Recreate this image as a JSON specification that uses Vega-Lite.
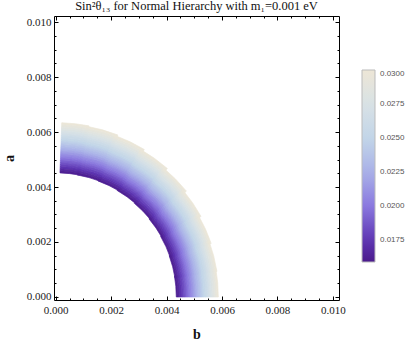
{
"$schema": "https://vega.github.io/schema/vega-lite/v6.json",
"autosize": {"type": "none"},
"padding": {"left": 54, "top": 16, "right": 76, "bottom": 47},
"width": 285,
"height": 284,
"title": {"text": "Sin²θ₁₃ for Normal Hierarchy with m₁=0.001 eV", "font": "Liberation Serif", "fontSize": 12.5, "fontWeight": "normal", "color": "#111", "anchor": "middle", "offset": 3},
"config": {
  "font": "Liberation Serif",
  "view": {"stroke": null},
  "axis": {"domainColor": "#000", "domainWidth": 1, "tickColor": "#000", "labelFont": "Liberation Serif", "labelFontSize": 11, "labelColor": "#222", "titleFont": "Liberation Serif", "titleFontWeight": "bold", "titleFontSize": 14, "titleColor": "#111", "grid": false, "zindex": 1}
},
"datasets": {
  "bands": [
{"t1":2,"t2":11,"r":0.006316,"r2":0.006240,"v":0.02971},{"t1":2,"t2":11,"r":0.006240,"r2":0.006165,"v":0.02912},{"t1":2,"t2":11,"r":0.006165,"r2":0.006089,"v":0.02853},{"t1":2,"t2":11,"r":0.006089,"r2":0.006013,"v":0.02794},{"t1":2,"t2":11,"r":0.006013,"r2":0.005937,"v":0.02736},{"t1":2,"t2":11,"r":0.005937,"r2":0.005862,"v":0.02677},{"t1":2,"t2":11,"r":0.005862,"r2":0.005786,"v":0.02618},{"t1":2,"t2":11,"r":0.005786,"r2":0.005710,"v":0.02559},{"t1":2,"t2":11,"r":0.005710,"r2":0.005635,"v":0.02501},{"t1":2,"t2":11,"r":0.005635,"r2":0.005559,"v":0.02442},{"t1":2,"t2":11,"r":0.005559,"r2":0.005483,"v":0.02383},{"t1":2,"t2":11,"r":0.005483,"r2":0.005408,"v":0.02324},{"t1":2,"t2":11,"r":0.005408,"r2":0.005332,"v":0.02266},{"t1":2,"t2":11,"r":0.005332,"r2":0.005256,"v":0.02207},{"t1":2,"t2":11,"r":0.005256,"r2":0.005180,"v":0.02148},{"t1":2,"t2":11,"r":0.005180,"r2":0.005105,"v":0.02089},{"t1":2,"t2":11,"r":0.005105,"r2":0.005029,"v":0.02031},{"t1":2,"t2":11,"r":0.005029,"r2":0.004953,"v":0.01972},{"t1":2,"t2":11,"r":0.004953,"r2":0.004878,"v":0.01913},{"t1":2,"t2":11,"r":0.004878,"r2":0.004802,"v":0.01854},{"t1":2,"t2":11,"r":0.004802,"r2":0.004726,"v":0.01796},{"t1":2,"t2":11,"r":0.004726,"r2":0.004650,"v":0.01737},{"t1":2,"t2":11,"r":0.004650,"r2":0.004575,"v":0.01678},{"t1":2,"t2":11,"r":0.004575,"r2":0.004499,"v":0.01619},
{"t1":10,"t2":21,"r":0.006288,"r2":0.006213,"v":0.02971},{"t1":10,"t2":21,"r":0.006213,"r2":0.006138,"v":0.02912},{"t1":10,"t2":21,"r":0.006138,"r2":0.006063,"v":0.02853},{"t1":10,"t2":21,"r":0.006063,"r2":0.005988,"v":0.02794},{"t1":10,"t2":21,"r":0.005988,"r2":0.005914,"v":0.02736},{"t1":10,"t2":21,"r":0.005914,"r2":0.005839,"v":0.02677},{"t1":10,"t2":21,"r":0.005839,"r2":0.005764,"v":0.02618},{"t1":10,"t2":21,"r":0.005764,"r2":0.005689,"v":0.02559},{"t1":10,"t2":21,"r":0.005689,"r2":0.005614,"v":0.02501},{"t1":10,"t2":21,"r":0.005614,"r2":0.005539,"v":0.02442},{"t1":10,"t2":21,"r":0.005539,"r2":0.005464,"v":0.02383},{"t1":10,"t2":21,"r":0.005464,"r2":0.005390,"v":0.02324},{"t1":10,"t2":21,"r":0.005390,"r2":0.005315,"v":0.02266},{"t1":10,"t2":21,"r":0.005315,"r2":0.005240,"v":0.02207},{"t1":10,"t2":21,"r":0.005240,"r2":0.005165,"v":0.02148},{"t1":10,"t2":21,"r":0.005165,"r2":0.005090,"v":0.02089},{"t1":10,"t2":21,"r":0.005090,"r2":0.005015,"v":0.02031},{"t1":10,"t2":21,"r":0.005015,"r2":0.004940,"v":0.01972},{"t1":10,"t2":21,"r":0.004940,"r2":0.004865,"v":0.01913},{"t1":10,"t2":21,"r":0.004865,"r2":0.004790,"v":0.01854},{"t1":10,"t2":21,"r":0.004790,"r2":0.004716,"v":0.01796},{"t1":10,"t2":21,"r":0.004716,"r2":0.004641,"v":0.01737},{"t1":10,"t2":21,"r":0.004641,"r2":0.004566,"v":0.01678},{"t1":10,"t2":21,"r":0.004566,"r2":0.004491,"v":0.01619},
{"t1":20,"t2":31,"r":0.006236,"r2":0.006163,"v":0.02971},{"t1":20,"t2":31,"r":0.006163,"r2":0.006089,"v":0.02912},{"t1":20,"t2":31,"r":0.006089,"r2":0.006016,"v":0.02853},{"t1":20,"t2":31,"r":0.006016,"r2":0.005943,"v":0.02794},{"t1":20,"t2":31,"r":0.005943,"r2":0.005869,"v":0.02736},{"t1":20,"t2":31,"r":0.005869,"r2":0.005796,"v":0.02677},{"t1":20,"t2":31,"r":0.005796,"r2":0.005723,"v":0.02618},{"t1":20,"t2":31,"r":0.005723,"r2":0.005649,"v":0.02559},{"t1":20,"t2":31,"r":0.005649,"r2":0.005576,"v":0.02501},{"t1":20,"t2":31,"r":0.005576,"r2":0.005503,"v":0.02442},{"t1":20,"t2":31,"r":0.005503,"r2":0.005429,"v":0.02383},{"t1":20,"t2":31,"r":0.005429,"r2":0.005356,"v":0.02324},{"t1":20,"t2":31,"r":0.005356,"r2":0.005283,"v":0.02266},{"t1":20,"t2":31,"r":0.005283,"r2":0.005209,"v":0.02207},{"t1":20,"t2":31,"r":0.005209,"r2":0.005136,"v":0.02148},{"t1":20,"t2":31,"r":0.005136,"r2":0.005063,"v":0.02089},{"t1":20,"t2":31,"r":0.005063,"r2":0.004989,"v":0.02031},{"t1":20,"t2":31,"r":0.004989,"r2":0.004916,"v":0.01972},{"t1":20,"t2":31,"r":0.004916,"r2":0.004843,"v":0.01913},{"t1":20,"t2":31,"r":0.004843,"r2":0.004769,"v":0.01854},{"t1":20,"t2":31,"r":0.004769,"r2":0.004696,"v":0.01796},{"t1":20,"t2":31,"r":0.004696,"r2":0.004623,"v":0.01737},{"t1":20,"t2":31,"r":0.004623,"r2":0.004549,"v":0.01678},{"t1":20,"t2":31,"r":0.004549,"r2":0.004476,"v":0.01619},
{"t1":30,"t2":41,"r":0.006168,"r2":0.006097,"v":0.02971},{"t1":30,"t2":41,"r":0.006097,"r2":0.006025,"v":0.02912},{"t1":30,"t2":41,"r":0.006025,"r2":0.005954,"v":0.02853},{"t1":30,"t2":41,"r":0.005954,"r2":0.005883,"v":0.02794},{"t1":30,"t2":41,"r":0.005883,"r2":0.005811,"v":0.02736},{"t1":30,"t2":41,"r":0.005811,"r2":0.005740,"v":0.02677},{"t1":30,"t2":41,"r":0.005740,"r2":0.005669,"v":0.02618},{"t1":30,"t2":41,"r":0.005669,"r2":0.005597,"v":0.02559},{"t1":30,"t2":41,"r":0.005597,"r2":0.005526,"v":0.02501},{"t1":30,"t2":41,"r":0.005526,"r2":0.005455,"v":0.02442},{"t1":30,"t2":41,"r":0.005455,"r2":0.005383,"v":0.02383},{"t1":30,"t2":41,"r":0.005383,"r2":0.005312,"v":0.02324},{"t1":30,"t2":41,"r":0.005312,"r2":0.005241,"v":0.02266},{"t1":30,"t2":41,"r":0.005241,"r2":0.005169,"v":0.02207},{"t1":30,"t2":41,"r":0.005169,"r2":0.005098,"v":0.02148},{"t1":30,"t2":41,"r":0.005098,"r2":0.005027,"v":0.02089},{"t1":30,"t2":41,"r":0.005027,"r2":0.004955,"v":0.02031},{"t1":30,"t2":41,"r":0.004955,"r2":0.004884,"v":0.01972},{"t1":30,"t2":41,"r":0.004884,"r2":0.004813,"v":0.01913},{"t1":30,"t2":41,"r":0.004813,"r2":0.004741,"v":0.01854},{"t1":30,"t2":41,"r":0.004741,"r2":0.004670,"v":0.01796},{"t1":30,"t2":41,"r":0.004670,"r2":0.004599,"v":0.01737},{"t1":30,"t2":41,"r":0.004599,"r2":0.004527,"v":0.01678},{"t1":30,"t2":41,"r":0.004527,"r2":0.004456,"v":0.01619},
{"t1":40,"t2":51,"r":0.006094,"r2":0.006025,"v":0.02971},{"t1":40,"t2":51,"r":0.006025,"r2":0.005956,"v":0.02912},{"t1":40,"t2":51,"r":0.005956,"r2":0.005887,"v":0.02853},{"t1":40,"t2":51,"r":0.005887,"r2":0.005817,"v":0.02794},{"t1":40,"t2":51,"r":0.005817,"r2":0.005748,"v":0.02736},{"t1":40,"t2":51,"r":0.005748,"r2":0.005679,"v":0.02677},{"t1":40,"t2":51,"r":0.005679,"r2":0.005610,"v":0.02618},{"t1":40,"t2":51,"r":0.005610,"r2":0.005541,"v":0.02559},{"t1":40,"t2":51,"r":0.005541,"r2":0.005472,"v":0.02501},{"t1":40,"t2":51,"r":0.005472,"r2":0.005402,"v":0.02442},{"t1":40,"t2":51,"r":0.005402,"r2":0.005333,"v":0.02383},{"t1":40,"t2":51,"r":0.005333,"r2":0.005264,"v":0.02324},{"t1":40,"t2":51,"r":0.005264,"r2":0.005195,"v":0.02266},{"t1":40,"t2":51,"r":0.005195,"r2":0.005126,"v":0.02207},{"t1":40,"t2":51,"r":0.005126,"r2":0.005057,"v":0.02148},{"t1":40,"t2":51,"r":0.005057,"r2":0.004987,"v":0.02089},{"t1":40,"t2":51,"r":0.004987,"r2":0.004918,"v":0.02031},{"t1":40,"t2":51,"r":0.004918,"r2":0.004849,"v":0.01972},{"t1":40,"t2":51,"r":0.004849,"r2":0.004780,"v":0.01913},{"t1":40,"t2":51,"r":0.004780,"r2":0.004711,"v":0.01854},{"t1":40,"t2":51,"r":0.004711,"r2":0.004642,"v":0.01796},{"t1":40,"t2":51,"r":0.004642,"r2":0.004572,"v":0.01737},{"t1":40,"t2":51,"r":0.004572,"r2":0.004503,"v":0.01678},{"t1":40,"t2":51,"r":0.004503,"r2":0.004434,"v":0.01619},
{"t1":50,"t2":61,"r":0.006022,"r2":0.005955,"v":0.02971},{"t1":50,"t2":61,"r":0.005955,"r2":0.005888,"v":0.02912},{"t1":50,"t2":61,"r":0.005888,"r2":0.005821,"v":0.02853},{"t1":50,"t2":61,"r":0.005821,"r2":0.005754,"v":0.02794},{"t1":50,"t2":61,"r":0.005754,"r2":0.005687,"v":0.02736},{"t1":50,"t2":61,"r":0.005687,"r2":0.005620,"v":0.02677},{"t1":50,"t2":61,"r":0.005620,"r2":0.005552,"v":0.02618},{"t1":50,"t2":61,"r":0.005552,"r2":0.005485,"v":0.02559},{"t1":50,"t2":61,"r":0.005485,"r2":0.005418,"v":0.02501},{"t1":50,"t2":61,"r":0.005418,"r2":0.005351,"v":0.02442},{"t1":50,"t2":61,"r":0.005351,"r2":0.005284,"v":0.02383},{"t1":50,"t2":61,"r":0.005284,"r2":0.005217,"v":0.02324},{"t1":50,"t2":61,"r":0.005217,"r2":0.005150,"v":0.02266},{"t1":50,"t2":61,"r":0.005150,"r2":0.005083,"v":0.02207},{"t1":50,"t2":61,"r":0.005083,"r2":0.005016,"v":0.02148},{"t1":50,"t2":61,"r":0.005016,"r2":0.004949,"v":0.02089},{"t1":50,"t2":61,"r":0.004949,"r2":0.004882,"v":0.02031},{"t1":50,"t2":61,"r":0.004882,"r2":0.004815,"v":0.01972},{"t1":50,"t2":61,"r":0.004815,"r2":0.004747,"v":0.01913},{"t1":50,"t2":61,"r":0.004747,"r2":0.004680,"v":0.01854},{"t1":50,"t2":61,"r":0.004680,"r2":0.004613,"v":0.01796},{"t1":50,"t2":61,"r":0.004613,"r2":0.004546,"v":0.01737},{"t1":50,"t2":61,"r":0.004546,"r2":0.004479,"v":0.01678},{"t1":50,"t2":61,"r":0.004479,"r2":0.004412,"v":0.01619},
{"t1":60,"t2":71,"r":0.005960,"r2":0.005895,"v":0.02971},{"t1":60,"t2":71,"r":0.005895,"r2":0.005829,"v":0.02912},{"t1":60,"t2":71,"r":0.005829,"r2":0.005764,"v":0.02853},{"t1":60,"t2":71,"r":0.005764,"r2":0.005699,"v":0.02794},{"t1":60,"t2":71,"r":0.005699,"r2":0.005633,"v":0.02736},{"t1":60,"t2":71,"r":0.005633,"r2":0.005568,"v":0.02677},{"t1":60,"t2":71,"r":0.005568,"r2":0.005503,"v":0.02618},{"t1":60,"t2":71,"r":0.005503,"r2":0.005437,"v":0.02559},{"t1":60,"t2":71,"r":0.005437,"r2":0.005372,"v":0.02501},{"t1":60,"t2":71,"r":0.005372,"r2":0.005307,"v":0.02442},{"t1":60,"t2":71,"r":0.005307,"r2":0.005241,"v":0.02383},{"t1":60,"t2":71,"r":0.005241,"r2":0.005176,"v":0.02324},{"t1":60,"t2":71,"r":0.005176,"r2":0.005111,"v":0.02266},{"t1":60,"t2":71,"r":0.005111,"r2":0.005045,"v":0.02207},{"t1":60,"t2":71,"r":0.005045,"r2":0.004980,"v":0.02148},{"t1":60,"t2":71,"r":0.004980,"r2":0.004915,"v":0.02089},{"t1":60,"t2":71,"r":0.004915,"r2":0.004849,"v":0.02031},{"t1":60,"t2":71,"r":0.004849,"r2":0.004784,"v":0.01972},{"t1":60,"t2":71,"r":0.004784,"r2":0.004719,"v":0.01913},{"t1":60,"t2":71,"r":0.004719,"r2":0.004653,"v":0.01854},{"t1":60,"t2":71,"r":0.004653,"r2":0.004588,"v":0.01796},{"t1":60,"t2":71,"r":0.004588,"r2":0.004523,"v":0.01737},{"t1":60,"t2":71,"r":0.004523,"r2":0.004457,"v":0.01678},{"t1":60,"t2":71,"r":0.004457,"r2":0.004392,"v":0.01619},
{"t1":70,"t2":81,"r":0.005916,"r2":0.005852,"v":0.02971},{"t1":70,"t2":81,"r":0.005852,"r2":0.005788,"v":0.02912},{"t1":70,"t2":81,"r":0.005788,"r2":0.005724,"v":0.02853},{"t1":70,"t2":81,"r":0.005724,"r2":0.005660,"v":0.02794},{"t1":70,"t2":81,"r":0.005660,"r2":0.005596,"v":0.02736},{"t1":70,"t2":81,"r":0.005596,"r2":0.005532,"v":0.02677},{"t1":70,"t2":81,"r":0.005532,"r2":0.005467,"v":0.02618},{"t1":70,"t2":81,"r":0.005467,"r2":0.005403,"v":0.02559},{"t1":70,"t2":81,"r":0.005403,"r2":0.005339,"v":0.02501},{"t1":70,"t2":81,"r":0.005339,"r2":0.005275,"v":0.02442},{"t1":70,"t2":81,"r":0.005275,"r2":0.005211,"v":0.02383},{"t1":70,"t2":81,"r":0.005211,"r2":0.005147,"v":0.02324},{"t1":70,"t2":81,"r":0.005147,"r2":0.005083,"v":0.02266},{"t1":70,"t2":81,"r":0.005083,"r2":0.005019,"v":0.02207},{"t1":70,"t2":81,"r":0.005019,"r2":0.004955,"v":0.02148},{"t1":70,"t2":81,"r":0.004955,"r2":0.004891,"v":0.02089},{"t1":70,"t2":81,"r":0.004891,"r2":0.004827,"v":0.02031},{"t1":70,"t2":81,"r":0.004827,"r2":0.004763,"v":0.01972},{"t1":70,"t2":81,"r":0.004763,"r2":0.004698,"v":0.01913},{"t1":70,"t2":81,"r":0.004698,"r2":0.004634,"v":0.01854},{"t1":70,"t2":81,"r":0.004634,"r2":0.004570,"v":0.01796},{"t1":70,"t2":81,"r":0.004570,"r2":0.004506,"v":0.01737},{"t1":70,"t2":81,"r":0.004506,"r2":0.004442,"v":0.01678},{"t1":70,"t2":81,"r":0.004442,"r2":0.004378,"v":0.01619},
{"t1":80,"t2":90,"r":0.005893,"r2":0.005830,"v":0.02971},{"t1":80,"t2":90,"r":0.005830,"r2":0.005766,"v":0.02912},{"t1":80,"t2":90,"r":0.005766,"r2":0.005703,"v":0.02853},{"t1":80,"t2":90,"r":0.005703,"r2":0.005639,"v":0.02794},{"t1":80,"t2":90,"r":0.005639,"r2":0.005576,"v":0.02736},{"t1":80,"t2":90,"r":0.005576,"r2":0.005513,"v":0.02677},{"t1":80,"t2":90,"r":0.005513,"r2":0.005449,"v":0.02618},{"t1":80,"t2":90,"r":0.005449,"r2":0.005386,"v":0.02559},{"t1":80,"t2":90,"r":0.005386,"r2":0.005322,"v":0.02501},{"t1":80,"t2":90,"r":0.005322,"r2":0.005259,"v":0.02442},{"t1":80,"t2":90,"r":0.005259,"r2":0.005195,"v":0.02383},{"t1":80,"t2":90,"r":0.005195,"r2":0.005132,"v":0.02324},{"t1":80,"t2":90,"r":0.005132,"r2":0.005069,"v":0.02266},{"t1":80,"t2":90,"r":0.005069,"r2":0.005005,"v":0.02207},{"t1":80,"t2":90,"r":0.005005,"r2":0.004942,"v":0.02148},{"t1":80,"t2":90,"r":0.004942,"r2":0.004878,"v":0.02089},{"t1":80,"t2":90,"r":0.004878,"r2":0.004815,"v":0.02031},{"t1":80,"t2":90,"r":0.004815,"r2":0.004752,"v":0.01972},{"t1":80,"t2":90,"r":0.004752,"r2":0.004688,"v":0.01913},{"t1":80,"t2":90,"r":0.004688,"r2":0.004625,"v":0.01854},{"t1":80,"t2":90,"r":0.004625,"r2":0.004561,"v":0.01796},{"t1":80,"t2":90,"r":0.004561,"r2":0.004498,"v":0.01737},{"t1":80,"t2":90,"r":0.004498,"r2":0.004434,"v":0.01678},{"t1":80,"t2":90,"r":0.004434,"r2":0.004371,"v":0.01619}
  ]
},
"layer": [
  {
    "data": {"name": "bands"},
    "mark": {"type": "arc", "stroke": {"expr": "scale('color', datum.v)"}, "strokeWidth": 0.7},
    "encoding": {
      "x": {"datum": 0, "type": "quantitative",
        "scale": {"domain": [-0.00006, 0.01022], "nice": false, "zero": false},
        "axis": {"orient": "bottom", "title": "b", "values": [0,0.0005,0.001,0.0015,0.002,0.0025,0.003,0.0035,0.004,0.0045,0.005,0.0055,0.006,0.0065,0.007,0.0075,0.008,0.0085,0.009,0.0095,0.01], "format": ".3f", "labelExpr": "abs(datum.value*500 - round(datum.value*500)) < 0.001 ? datum.label : ''", "tickSize": {"condition": {"test": "abs(datum.value*500 - round(datum.value*500)) < 0.001", "value": -4}, "value": -2}, "labelPadding": 8, "titlePadding": 10, "labelFlush": false, "labelOverlap": false}},
      "y": {"datum": 0, "type": "quantitative",
        "scale": {"domain": [-0.00011, 0.01022], "nice": false, "zero": false},
        "axis": {"orient": "left", "title": "a", "values": [0,0.0005,0.001,0.0015,0.002,0.0025,0.003,0.0035,0.004,0.0045,0.005,0.0055,0.006,0.0065,0.007,0.0075,0.008,0.0085,0.009,0.0095,0.01], "format": ".3f", "labelExpr": "abs(datum.value*500 - round(datum.value*500)) < 0.001 ? datum.label : ''", "tickSize": {"condition": {"test": "abs(datum.value*500 - round(datum.value*500)) < 0.001", "value": -4}, "value": -2}, "labelPadding": 7, "titlePadding": 10, "labelFlush": false, "labelOverlap": false}},
      "theta": {"field": "t1", "type": "quantitative", "stack": null, "scale": {"domain": [0, 360], "range": [0, 6.283185307]}},
      "theta2": {"field": "t2"},
      "radius": {"field": "r", "type": "quantitative", "scale": {"type": "linear", "domain": [0, 0.01], "range": [0, 276], "zero": true}},
      "radius2": {"field": "r2"},
      "color": {"field": "v", "type": "quantitative",
        "scale": {"domain": [0.0159, 0.0175, 0.02, 0.0225, 0.025, 0.0275, 0.03], "range": ["#4b1a8c", "#5e36b3", "#8a78df", "#a9b1e8", "#c2d5e8", "#d8e2e5", "#ede6d6"], "interpolate": "rgb"},
        "legend": {"orient": "none", "legendX": 308, "legendY": 54, "title": null, "direction": "vertical", "gradientLength": 192, "gradientThickness": 13, "values": [0.0175, 0.02, 0.0225, 0.025, 0.0275, 0.03], "format": ".4f", "labelFont": "Liberation Sans", "labelFontSize": 8, "labelColor": "#555", "labelOffset": 5, "gradientStrokeColor": "#bbb", "gradientStrokeWidth": 1}}
    }
  },
  {
    "data": {"values": [{"p": 0}]},
    "mark": {"type": "point", "opacity": 0},
    "encoding": {
      "x": {"datum": 0, "type": "quantitative",
        "axis": {"orient": "top", "title": null, "labels": false, "values": [0,0.0005,0.001,0.0015,0.002,0.0025,0.003,0.0035,0.004,0.0045,0.005,0.0055,0.006,0.0065,0.007,0.0075,0.008,0.0085,0.009,0.0095,0.01], "tickSize": {"condition": {"test": "abs(datum.value*500 - round(datum.value*500)) < 0.001", "value": -4}, "value": -2}}},
      "y": {"datum": 0, "type": "quantitative",
        "axis": {"orient": "right", "title": null, "labels": false, "values": [0,0.0005,0.001,0.0015,0.002,0.0025,0.003,0.0035,0.004,0.0045,0.005,0.0055,0.006,0.0065,0.007,0.0075,0.008,0.0085,0.009,0.0095,0.01], "tickSize": {"condition": {"test": "abs(datum.value*500 - round(datum.value*500)) < 0.001", "value": -4}, "value": -2}}}
    }
  }
],
"resolve": {"axis": {"x": "independent", "y": "independent"}}
}
